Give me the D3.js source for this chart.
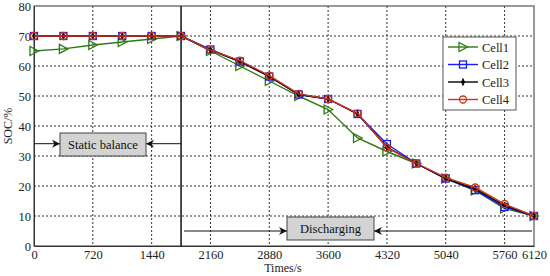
<!DOCTYPE html>
<html><head><meta charset="utf-8">
<script src="https://cdn.jsdelivr.net/npm/d3@7"></script>
<style>
body{margin:0;background:#fff;}
svg text{font-family:"Times New Roman","Liberation Serif","DejaVu Serif",serif !important;}
</style></head>
<body><svg id="c" width="550" height="276"></svg>
<script>
const times = [0,360,720,1080,1440,1800,2160,2520,2880,3240,3600,3960,4320,4680,5040,5400,5760,6120];
const cell1 = [65,65.7,67,68,69,70,65,60,55,50,45.5,36,31.5,27.5,22.5,18.5,12.5,10];
const cell2 = [70,70,70,70,70,70,65.5,61.5,56.5,50.5,49,44,34,27.5,22.5,18.6,13,10];
const cell3 = [70,70,70,70,70,70,65.3,61.5,56.5,50.5,49,44,33,27.5,22.5,19,13.5,10];
const cell4 = [70,70,70,70,70,70,65.3,61.8,56.8,50.7,49,44.2,32.8,27.5,22.8,19.5,14,10];
const xTicks = [0,720,1440,2160,2880,3600,4320,5040,5760,6120];
const yTicks = [0,10,20,30,40,50,60,70,80];
const seriesNames = ["Cell1","Cell2","Cell3","Cell4"];

const svg = d3.select("#c");
const L=34,R=534,T=6,B=246;
const x = d3.scaleLinear().domain([0,6120]).range([L,R]);
const y = d3.scaleLinear().domain([0,80]).range([B,T]);

const g = svg.append("g");
g.selectAll(".gx").data(xTicks.slice(1,-1)).enter().append("line")
 .attr("x1",d=>x(d)).attr("x2",d=>x(d)).attr("y1",T).attr("y2",B)
 .attr("stroke","#333").attr("stroke-width",1).attr("stroke-dasharray","2,2");
g.selectAll(".gy").data(yTicks.slice(1,-1)).enter().append("line")
 .attr("y1",d=>y(d)).attr("y2",d=>y(d)).attr("x1",L).attr("x2",R)
 .attr("stroke","#333").attr("stroke-width",1).attr("stroke-dasharray","2,2");

svg.append("rect").attr("x",L).attr("y",T).attr("width",R-L).attr("height",B-T)
 .attr("fill","none").attr("stroke","#555").attr("stroke-width",1.2);

const xa = svg.append("g").attr("transform",`translate(0,${B})`)
 .call(d3.axisBottom(x).tickValues(xTicks).tickSize(0).tickPadding(4).tickFormat(d3.format("d")));
xa.select(".domain").attr("stroke","#333");
xa.selectAll("text").attr("font-size",12.5).attr("fill","#222");
const ya = svg.append("g").attr("transform",`translate(${L},0)`)
 .call(d3.axisLeft(y).tickValues(yTicks).tickSize(0).tickPadding(3));
ya.select(".domain").attr("stroke","#333");
ya.selectAll("text").attr("font-size",12.5).attr("fill","#222");

svg.append("text").attr("x",283).attr("y",272).attr("text-anchor","middle")
 .attr("font-size",12).attr("fill","#222").text("Times/s");
svg.append("text").attr("transform","translate(12,126) rotate(-90)").attr("text-anchor","middle")
 .attr("font-size",12).attr("fill","#222").text("SOC/%");

svg.append("line").attr("x1",x(1800)).attr("x2",x(1800)).attr("y1",T).attr("y2",B)
 .attr("stroke","#111").attr("stroke-width",1.5);

const defs = svg.append("defs");
defs.append("marker").attr("id","ah").attr("viewBox","0 0 10 10").attr("refX",10).attr("refY",5)
 .attr("markerWidth",12).attr("markerHeight",8).attr("markerUnits","userSpaceOnUse").attr("orient","auto")
 .append("path").attr("d","M0,0 L10,5 L0,10 L3,5 Z").attr("fill","#111");

function arrow(x1,x2,yy){
  svg.append("line").attr("x1",x1).attr("x2",x2).attr("y1",yy).attr("y2",yy)
   .attr("stroke","#111").attr("stroke-width",1).attr("marker-end","url(#ah)");
}
function box(x0,x1,y0,y1,label){
  svg.append("rect").attr("x",x0).attr("y",y0).attr("width",x1-x0).attr("height",y1-y0)
   .attr("fill","#d3d3d3").attr("stroke","#444").attr("stroke-width",1);
  svg.append("text").attr("x",(x0+x1)/2).attr("y",(y0+y1)/2+4).attr("text-anchor","middle")
   .attr("font-size",12.5).attr("fill","#111").text(label);
}
arrow(x(0),60,y(34.1));
arrow(x(1800),146,y(34.1));
box(60,146,133,156,"Static balance");
arrow(x(1800)+3,287,231);
arrow(x(6120)-2,374,231);
box(287,374,217,240,"Discharging");

const colors = ["#2e7a14","#1a1aff","#000000","#cc3318"];
const data = [cell1,cell2,cell3,cell4];
const line = d3.line().x((d,i)=>x(times[i])).y(d=>y(d));

function drawMarker(sel,k,cx,cy){
  const c = colors[k];
  if(k===0){
    sel.append("path").attr("d",`M${cx-4},${cy-4.5} L${cx+4.5},${cy} L${cx-4},${cy+4.5} Z`)
     .attr("fill","none").attr("stroke",c).attr("stroke-width",1.3);
  } else if(k===1){
    sel.append("rect").attr("x",cx-3.5).attr("y",cy-3.5).attr("width",7).attr("height",7)
     .attr("fill","none").attr("stroke",c).attr("stroke-width",1.3);
  } else if(k===2){
    sel.append("path").attr("d",`M${cx},${cy-3.5} L${cx+1.5},${cy} L${cx},${cy+3.5} L${cx-1.5},${cy} Z`)
     .attr("fill",c).attr("stroke",c).attr("stroke-width",0.8);
  } else {
    sel.append("circle").attr("cx",cx).attr("cy",cy).attr("r",3.5)
     .attr("fill","none").attr("stroke",c).attr("stroke-width",1.3);
  }
}

data.forEach((vals,k)=>{
  const gg = svg.append("g");
  gg.append("path").datum(vals).attr("d",line).attr("fill","none")
   .attr("stroke",colors[k]).attr("stroke-width",1.4);
  vals.forEach((v,i)=>drawMarker(gg,k,x(times[i]),y(v)));
});

const lg = svg.append("g");
lg.append("rect").attr("x",443).attr("y",37).attr("width",73).attr("height",73)
 .attr("fill","#fff").attr("stroke","#555").attr("stroke-width",1);
seriesNames.forEach((n,k)=>{
  const yy = 47 + k*17.5;
  lg.append("line").attr("x1",448).attr("x2",478).attr("y1",yy).attr("y2",yy)
   .attr("stroke",colors[k]).attr("stroke-width",1.4);
  drawMarker(lg,k,463,yy);
  lg.append("text").attr("x",482).attr("y",yy+4.5).attr("font-size",12.5).attr("fill","#222").text(n);
});
</script></body></html>
